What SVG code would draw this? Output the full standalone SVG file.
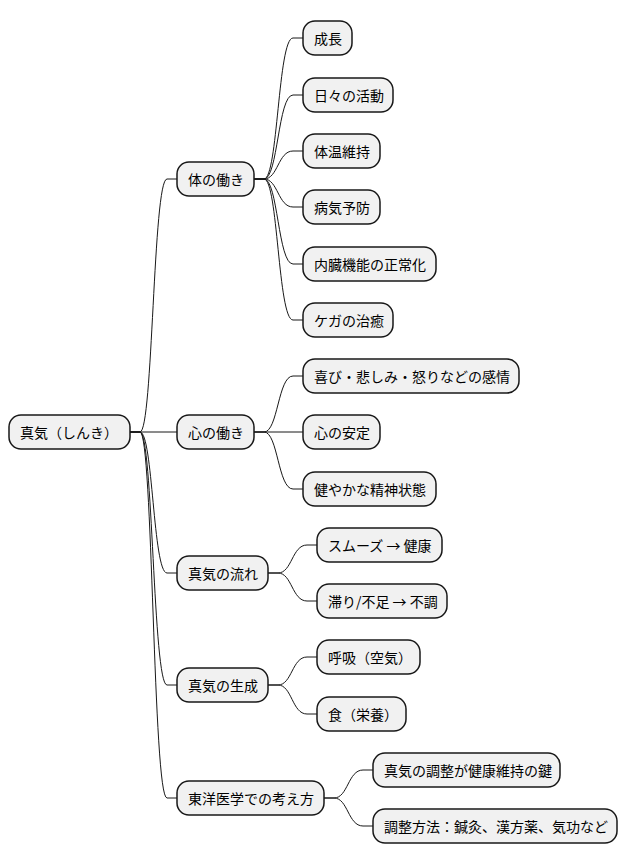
<svg xmlns="http://www.w3.org/2000/svg" width="628" height="865" viewBox="0 0 628 865">
<style>
.n rect{fill:#f1f1f1;stroke:#181818;stroke-width:1.5;}
.n text{font-family:"Noto Sans CJK JP","Liberation Sans",sans-serif;font-size:14px;fill:#000;dominant-baseline:central;}
#c path{fill:none;stroke:#181818;stroke-width:1;}
</style>
<rect width="628" height="865" fill="#fff"/>
<g id="c">
<path d="M130,432 H140 C153,432 153,179 167,179 H177"/>
<path d="M130,432 H177"/>
<path d="M130,432 H140 C153,432 153,573 167,573 H177"/>
<path d="M130,432 H140 C153,432 153,685 167,685 H177"/>
<path d="M130,432 H140 C153,432 153,798 167,798 H177"/>
<path d="M254,179 H264 C278,179 278,38 293,38 H303"/>
<path d="M254,179 H264 C278,179 278,95 293,95 H303"/>
<path d="M254,179 H264 C278,179 278,151 293,151 H303"/>
<path d="M254,179 H264 C278,179 278,207 293,207 H303"/>
<path d="M254,179 H264 C278,179 278,264 293,264 H303"/>
<path d="M254,179 H264 C278,179 278,320 293,320 H303"/>
<path d="M254,432 H264 C278,432 278,376 293,376 H303"/>
<path d="M254,432 H303"/>
<path d="M254,432 H264 C278,432 278,489 293,489 H303"/>
<path d="M268,573 H278 C292,573 292,545 307,545 H317"/>
<path d="M268,573 H278 C292,573 292,601 307,601 H317"/>
<path d="M268,685 H278 C292,685 292,657 307,657 H317"/>
<path d="M268,685 H278 C292,685 292,714 307,714 H317"/>
<path d="M324,798 H334 C348,798 348,770 363,770 H373"/>
<path d="M324,798 H334 C348,798 348,826 363,826 H373"/>
</g>
<g id="root" class="n"><rect x="9" y="415" width="121" height="34" rx="12"/><text x="20" y="432">真気（しんき）</text></g>
<g id="karada" class="n"><rect x="177" y="162" width="77" height="34" rx="12"/><text x="188" y="179">体の働き</text></g>
<g id="kokoro" class="n"><rect x="177" y="415" width="77" height="34" rx="12"/><text x="188" y="432">心の働き</text></g>
<g id="nagare" class="n"><rect x="177" y="556" width="91" height="34" rx="12"/><text x="188" y="573">真気の流れ</text></g>
<g id="seisei" class="n"><rect x="177" y="668" width="91" height="34" rx="12"/><text x="188" y="685">真気の生成</text></g>
<g id="toyo" class="n"><rect x="177" y="781" width="147" height="34" rx="12"/><text x="188" y="798">東洋医学での考え方</text></g>
<g id="n1" class="n"><rect x="303" y="21" width="49" height="34" rx="12"/><text x="314" y="38">成長</text></g>
<g id="n2" class="n"><rect x="303" y="78" width="90" height="34" rx="12"/><text x="314" y="95">日々の活動</text></g>
<g id="n3" class="n"><rect x="303" y="134" width="77" height="34" rx="12"/><text x="314" y="151">体温維持</text></g>
<g id="n4" class="n"><rect x="303" y="190" width="77" height="34" rx="12"/><text x="314" y="207">病気予防</text></g>
<g id="n5" class="n"><rect x="303" y="247" width="133" height="34" rx="12"/><text x="314" y="264">内臓機能の正常化</text></g>
<g id="n6" class="n"><rect x="303" y="303" width="90" height="34" rx="12"/><text x="314" y="320">ケガの治癒</text></g>
<g id="n7" class="n"><rect x="303" y="359" width="216" height="34" rx="12"/><text x="314" y="376">喜び・悲しみ・怒りなどの感情</text></g>
<g id="n8" class="n"><rect x="303" y="415" width="77" height="34" rx="12"/><text x="314" y="432">心の安定</text></g>
<g id="n9" class="n"><rect x="303" y="472" width="133" height="34" rx="12"/><text x="314" y="489">健やかな精神状態</text></g>
<g id="n10" class="n"><rect x="317" y="528" width="125" height="34" rx="12"/><text x="328" y="545">スムーズ → 健康</text></g>
<g id="n11" class="n"><rect x="317" y="584" width="130" height="34" rx="12"/><text x="328" y="601">滞り/不足 → 不調</text></g>
<g id="n12" class="n"><rect x="317" y="640" width="103" height="34" rx="12"/><text x="328" y="657">呼吸（空気）</text></g>
<g id="n13" class="n"><rect x="317" y="697" width="89" height="34" rx="12"/><text x="328" y="714">食（栄養）</text></g>
<g id="n14" class="n"><rect x="373" y="753" width="187" height="34" rx="12"/><text x="384" y="770">真気の調整が健康維持の鍵</text></g>
<g id="n15" class="n"><rect x="373" y="809" width="244" height="34" rx="12"/><text x="384" y="826">調整方法：鍼灸、漢方薬、気功など</text></g>
</svg>
